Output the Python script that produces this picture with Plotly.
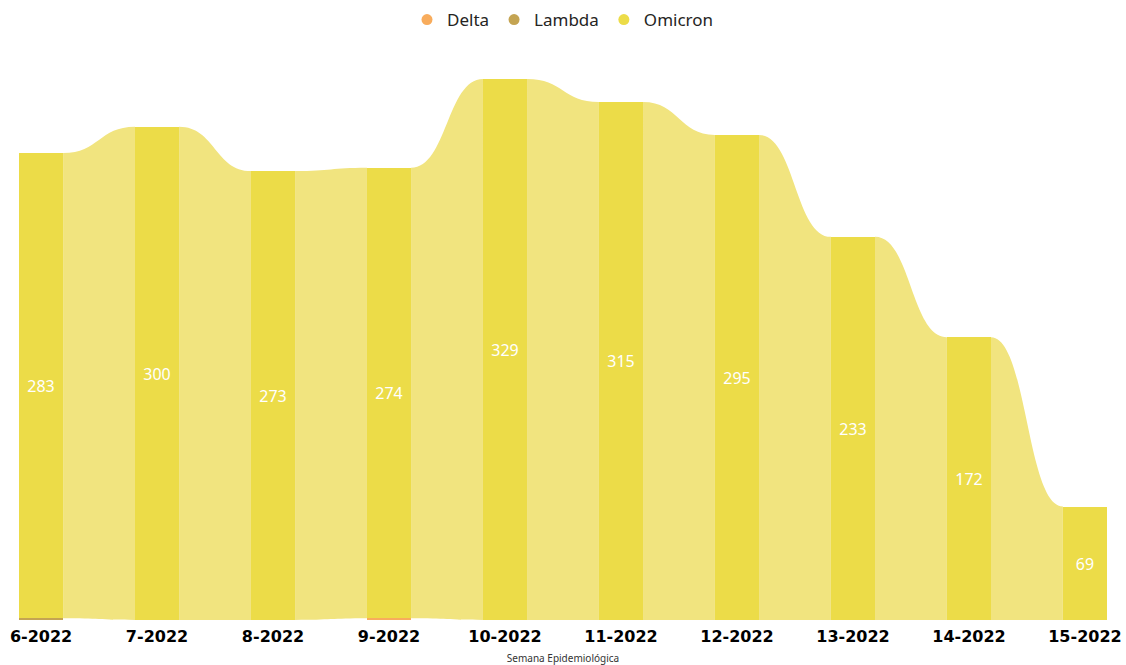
import plotly.graph_objects as go

# Data (weekly case counts by variant)
weeks = ["6-2022", "7-2022", "8-2022", "9-2022", "10-2022",
         "11-2022", "12-2022", "13-2022", "14-2022", "15-2022"]
delta = [0, 0, 0, 1, 0, 0, 0, 0, 0, 0]
lambda_ = [1, 0, 0, 0, 0, 0, 0, 0, 0, 0]
omicron = [283, 300, 273, 274, 329, 315, 295, 233, 172, 69]

colors = {"Delta": "#F8AC5C", "Lambda": "#C4A452", "Omicron": "#ECDC48"}
ribbon_color = "#F1E47F"

x = list(range(len(weeks)))
bar_w = 0.38
hw = bar_w / 2

fig = go.Figure()

# stacked bars (smaller variants at the bottom)
for name, vals in [("Lambda", lambda_), ("Delta", delta)]:
    fig.add_trace(go.Bar(
        x=x, y=[v if v else None for v in vals], width=bar_w,
        marker=dict(color=colors[name], line=dict(width=0)),
        name=name, showlegend=False, hoverinfo="skip"
    ))

fig.add_trace(go.Bar(
    x=x, y=omicron, width=bar_w,
    marker=dict(color=colors["Omicron"], line=dict(width=0)),
    name="Omicron", showlegend=False,
    text=[str(v) for v in omicron], textposition="inside",
    insidetextanchor="middle", textangle=0,
    textfont=dict(color="white", size=16, family="Noto Sans, Segoe UI, sans-serif"),
))

# ribbons joining the Omicron segments between weeks
others = [d + l for d, l in zip(delta, lambda_)]
for i in range(len(weeks) - 1):
    x0, x1 = i + hw, i + 1 - hw
    xm = (x0 + x1) / 2
    b0, b1 = others[i], others[i + 1]
    t0, t1 = b0 + omicron[i], b1 + omicron[i + 1]
    path = (f"M{x0},{b0} L{x0},{t0} C{xm},{t0} {xm},{t1} {x1},{t1} "
            f"L{x1},{b1} C{xm},{b1} {xm},{b0} {x0},{b0} Z")
    fig.add_shape(type="path", path=path, xref="x", yref="y",
                  fillcolor=ribbon_color, line=dict(width=0), layer="below")

# legend entries with round markers
for name in ["Delta", "Lambda", "Omicron"]:
    fig.add_trace(go.Scatter(
        x=[None], y=[None], mode="markers", name=name,
        marker=dict(symbol="circle", size=11, color=colors[name])
    ))

fig.update_layout(
    width=1126, height=665,
    barmode="stack", bargap=0,
    plot_bgcolor="white", paper_bgcolor="white",
    margin=dict(l=19, r=19, t=79, b=45, autoexpand=False),
    font=dict(family="Noto Sans, Segoe UI, sans-serif", color="#252423"),
    legend=dict(orientation="h", x=0.5, xanchor="center", y=1.109, yanchor="middle",
                traceorder="normal",
                font=dict(size=17, color="#252423"), itemwidth=30,
                itemclick=False, itemdoubleclick=False),
    xaxis=dict(
        range=[-hw, len(weeks) - 1 + hw],
        tickvals=x, ticktext=weeks, automargin=False,
        ticklabeloverflow="allow", ticklabelstandoff=5,
        tickfont=dict(family="DejaVu Sans, sans-serif", size=16,
                      color="black", weight="bold"),
        showgrid=False, zeroline=False, showline=False, ticks="",
        title=dict(text="Semana Epidemiológica", standoff=14,
                   font=dict(size=10, color="#333333")),
    ),
    yaxis=dict(range=[0, 329], visible=False, showgrid=False, zeroline=False,
               automargin=False),
)

# drop the default page margin so the figure fills the window exactly
fig.write_html("out.html", config={"displayModeBar": False},
               post_script="document.body.style.margin = '0';")
